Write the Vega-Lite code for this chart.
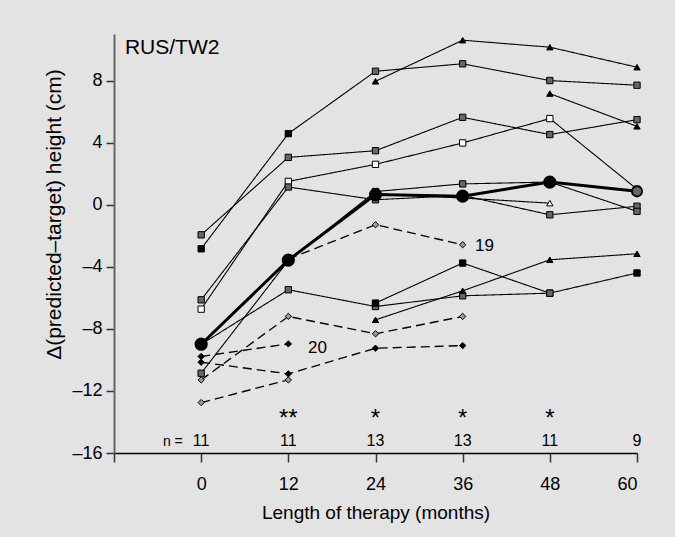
{
  "$schema": "https://vega.github.io/schema/vega-lite/v6.json",
  "width": 523,
  "height": 419,
  "autosize": {"type": "none"},
  "padding": {"left": 114, "top": 34, "right": 38, "bottom": 84},
  "background": "#e3e3e3",
  "config": {"view": {"stroke": null}, "font": "Liberation Sans", "axis": {"grid": false}},
  "datasets": {
    "obs": [
      {"id": "S1", "month": 0, "value": -2.84, "mk": "filled square", "line": "solid"},
      {"id": "S1", "month": 12, "value": 4.58, "mk": "filled square", "line": "solid"},
      {"id": "S1", "month": 24, "value": 8.6, "mk": "hatched square", "line": "solid"},
      {"id": "S1", "month": 36, "value": 9.08, "mk": "hatched square", "line": "solid"},
      {"id": "S1", "month": 48, "value": 8.0, "mk": "hatched square", "line": "solid"},
      {"id": "S1", "month": 60, "value": 7.7, "mk": "hatched square", "line": "solid"},
      {"id": "S2", "month": 0, "value": -1.94, "mk": "hatched square", "line": "solid"},
      {"id": "S2", "month": 12, "value": 3.05, "mk": "hatched square", "line": "solid"},
      {"id": "S2", "month": 24, "value": 3.48, "mk": "hatched square", "line": "solid"},
      {"id": "S2", "month": 36, "value": 5.63, "mk": "hatched square", "line": "solid"},
      {"id": "S2", "month": 48, "value": 4.52, "mk": "hatched square", "line": "solid"},
      {"id": "S2", "month": 60, "value": 5.48, "mk": "hatched square", "line": "solid"},
      {"id": "S3", "month": 0, "value": -6.73, "mk": "open square", "line": "solid"},
      {"id": "S3", "month": 12, "value": 1.5, "mk": "open square", "line": "solid"},
      {"id": "S3", "month": 24, "value": 2.6, "mk": "open square", "line": "solid"},
      {"id": "S3", "month": 36, "value": 3.98, "mk": "open square", "line": "solid"},
      {"id": "S3", "month": 48, "value": 5.55, "mk": "open square", "line": "solid"},
      {"id": "S3", "month": 60, "value": 1.0, "mk": "open square", "line": "solid"},
      {"id": "S4", "month": 0, "value": -6.13, "mk": "hatched square", "line": "solid"},
      {"id": "S4", "month": 12, "value": 1.14, "mk": "hatched square", "line": "solid"},
      {"id": "S4", "month": 24, "value": 0.32, "mk": "hatched square", "line": "solid"},
      {"id": "S4", "month": 36, "value": 0.6, "mk": "hatched square", "line": "solid"},
      {"id": "S4", "month": 48, "value": -0.65, "mk": "hatched square", "line": "solid"},
      {"id": "S4", "month": 60, "value": -0.1, "mk": "hatched square", "line": "solid"},
      {"id": "S5", "month": 0, "value": -10.86, "mk": "hatched square", "line": "solid"},
      {"id": "S5", "month": 12, "value": -3.6, "mk": "hatched square", "line": "solid"},
      {"id": "S5", "month": 24, "value": 0.85, "mk": "hatched square", "line": "solid"},
      {"id": "S5", "month": 36, "value": 1.34, "mk": "hatched square", "line": "solid"},
      {"id": "S5", "month": 48, "value": 1.46, "mk": "hatched square", "line": "solid"},
      {"id": "S5", "month": 60, "value": -0.43, "mk": "hatched square", "line": "solid"},
      {"id": "S6", "month": 0, "value": -9.0, "mk": "hatched square", "line": "solid"},
      {"id": "S6", "month": 12, "value": -5.48, "mk": "hatched square", "line": "solid"},
      {"id": "S6", "month": 24, "value": -6.56, "mk": "hatched square", "line": "solid"},
      {"id": "S6", "month": 36, "value": -5.87, "mk": "hatched square", "line": "solid"},
      {"id": "S6", "month": 48, "value": -5.7, "mk": "hatched square", "line": "solid"},
      {"id": "S7", "month": 24, "value": 7.95, "mk": "filled triangle", "line": "solid"},
      {"id": "S7", "month": 36, "value": 10.6, "mk": "filled triangle", "line": "solid"},
      {"id": "S7", "month": 48, "value": 10.15, "mk": "filled triangle", "line": "solid"},
      {"id": "S7", "month": 60, "value": 8.86, "mk": "filled triangle", "line": "solid"},
      {"id": "S8", "month": 24, "value": -7.42, "mk": "filled triangle", "line": "solid"},
      {"id": "S8", "month": 36, "value": -5.55, "mk": "filled triangle", "line": "solid"},
      {"id": "S8", "month": 48, "value": -3.55, "mk": "filled triangle", "line": "solid"},
      {"id": "S8", "month": 60, "value": -3.16, "mk": "filled triangle", "line": "solid"},
      {"id": "S9", "month": 24, "value": -6.34, "mk": "filled square", "line": "solid"},
      {"id": "S9", "month": 36, "value": -3.76, "mk": "filled square", "line": "solid"},
      {"id": "S9", "month": 48, "value": -5.7, "mk": "hatched square", "line": "solid"},
      {"id": "S9", "month": 60, "value": -4.4, "mk": "filled square", "line": "solid"},
      {"id": "S10", "month": 48, "value": 7.16, "mk": "filled triangle", "line": "solid"},
      {"id": "S10", "month": 60, "value": 5.05, "mk": "filled triangle", "line": "solid"},
      {"id": "S11", "month": 24, "value": 0.7, "mk": "open triangle", "line": "solid"},
      {"id": "S11", "month": 36, "value": 0.43, "mk": "open triangle", "line": "solid"},
      {"id": "S11", "month": 48, "value": 0.1, "mk": "open triangle", "line": "solid"},
      {"id": "D1", "month": 12, "value": -3.5, "mk": "hatched diamond", "line": "dashed"},
      {"id": "D1", "month": 24, "value": -1.29, "mk": "hatched diamond", "line": "dashed"},
      {"id": "D1", "month": 36, "value": -2.58, "mk": "hatched diamond", "line": "dashed"},
      {"id": "D2", "month": 0, "value": -9.78, "mk": "filled diamond", "line": "dashed"},
      {"id": "D2", "month": 12, "value": -8.97, "mk": "filled diamond", "line": "dashed"},
      {"id": "D3", "month": 0, "value": -10.15, "mk": "filled diamond", "line": "dashed"},
      {"id": "D3", "month": 12, "value": -10.9, "mk": "filled diamond", "line": "dashed"},
      {"id": "D3", "month": 24, "value": -9.25, "mk": "filled diamond", "line": "dashed"},
      {"id": "D3", "month": 36, "value": -9.08, "mk": "filled diamond", "line": "dashed"},
      {"id": "D4", "month": 0, "value": -11.29, "mk": "hatched diamond", "line": "dashed"},
      {"id": "D4", "month": 12, "value": -7.2, "mk": "hatched diamond", "line": "dashed"},
      {"id": "D4", "month": 24, "value": -8.32, "mk": "hatched diamond", "line": "dashed"},
      {"id": "D4", "month": 36, "value": -7.2, "mk": "hatched diamond", "line": "dashed"},
      {"id": "D5", "month": 0, "value": -12.75, "mk": "hatched diamond", "line": "dashed"},
      {"id": "D5", "month": 12, "value": -11.29, "mk": "hatched diamond", "line": "dashed"},
      {"id": "mean", "month": 0, "value": -8.99, "mk": "mean", "line": "solid"},
      {"id": "mean", "month": 12, "value": -3.57, "mk": "mean", "line": "solid"},
      {"id": "mean", "month": 24, "value": 0.65, "mk": "mean", "line": "solid"},
      {"id": "mean", "month": 36, "value": 0.55, "mk": "mean", "line": "solid"},
      {"id": "mean", "month": 48, "value": 1.46, "mk": "mean", "line": "solid"},
      {"id": "mean", "month": 60, "value": 0.86, "mk": "mean open", "line": "solid"}
    ],
    "notes": [
      {"text": "RUS/TW2", "month": -10.5, "value": 9.68, "kind": "panel"},
      {"text": "19", "month": 37.7, "value": -3.01, "kind": "label"},
      {"text": "20", "month": 14.7, "value": -9.57, "kind": "label"},
      {"text": "n =", "month": -3.9, "value": -15.53, "kind": "nlab"},
      {"text": "11", "month": 0, "value": -15.53, "kind": "n"},
      {"text": "11", "month": 12, "value": -15.53, "kind": "n"},
      {"text": "13", "month": 24, "value": -15.53, "kind": "n"},
      {"text": "13", "month": 36, "value": -15.53, "kind": "n"},
      {"text": "11", "month": 48, "value": -15.53, "kind": "n"},
      {"text": "9", "month": 60, "value": -15.53, "kind": "n"},
      {"text": "**", "month": 12, "value": -14.58, "kind": "star"},
      {"text": "*", "month": 24, "value": -14.58, "kind": "star"},
      {"text": "*", "month": 36, "value": -14.58, "kind": "star"},
      {"text": "*", "month": 48, "value": -14.58, "kind": "star"}
    ]
  },
  "encoding": {
    "x": {
      "field": "month", "type": "quantitative",
      "scale": {"domain": [-12, 60], "nice": false, "zero": false},
      "axis": {
        "values": [-12, 0, 12, 24, 36, 48, 60],
        "labelExpr": "datum.value < 0 ? '' : datum.label",
        "title": "Length of therapy (months)",
        "domainColor": "black", "domainWidth": 1.5,
        "tickColor": "#333", "tickWidth": 1.5, "tickSize": 9,
        "labelFontSize": 18, "labelPadding": 13, "labelColor": "black",
        "titleFontSize": 19, "titleFontWeight": "normal", "titleColor": "black", "titlePadding": 10
      }
    },
    "y": {
      "field": "value", "type": "quantitative",
      "scale": {"domain": [-16, 11], "nice": false, "zero": false},
      "axis": {
        "values": [-16, -12, -8, -4, 0, 4, 8],
        "labelExpr": "replace(datum.label, '−', '–')",
        "title": "Δ(predicted–target) height (cm)",
        "domainColor": "#666", "domainWidth": 2,
        "tickColor": "#333", "tickWidth": 1.5, "tickSize": 8,
        "labelFontSize": 18, "labelPadding": 4, "labelColor": "black",
        "titleFontSize": 21, "titleFontWeight": "normal", "titleColor": "black",
        "titleX": -60, "titleY": 180, "titleAlign": "center", "titleBaseline": "middle"
      }
    }
  },
  "layer": [
    {
      "data": {"name": "obs"},
      "transform": [{"filter": "datum.id !== 'mean'"}],
      "mark": {"type": "line", "color": "black"},
      "encoding": {
        "detail": {"field": "id", "type": "nominal"},
        "order": {"field": "month", "type": "quantitative"},
        "strokeDash": {"field": "line", "type": "nominal", "scale": {"domain": ["solid", "dashed"], "range": [[1, 0], [9, 5]]}, "legend": null},
        "strokeWidth": {"field": "line", "type": "nominal", "scale": {"domain": ["solid", "dashed"], "range": [1.1, 1.8]}, "legend": null}
      }
    },
    {
      "data": {"name": "obs"},
      "transform": [{"filter": "datum.id !== 'mean'"}],
      "mark": {"type": "point", "filled": true, "stroke": "black", "strokeWidth": 1, "opacity": 1, "size": 40},
      "encoding": {
        "shape": {"field": "mk", "type": "nominal", "legend": null,
          "scale": {"domain": ["filled square", "hatched square", "open square", "filled triangle", "open triangle", "filled diamond", "hatched diamond"],
                    "range": ["square", "square", "square", "triangle-up", "triangle-up", "diamond", "diamond"]}},
        "fill": {"field": "mk", "type": "nominal", "legend": null,
          "scale": {"domain": ["filled square", "hatched square", "open square", "filled triangle", "open triangle", "filled diamond", "hatched diamond"],
                    "range": ["black", "#666666", "white", "black", "white", "black", "#999999"]}}
      }
    },
    {
      "data": {"name": "obs"},
      "transform": [{"filter": "datum.id === 'mean'"}],
      "mark": {"type": "line", "color": "black", "strokeWidth": 3},
      "encoding": {"order": {"field": "month", "type": "quantitative"}}
    },
    {
      "data": {"name": "obs"},
      "transform": [{"filter": "datum.id === 'mean'"}],
      "mark": {"type": "point", "filled": true, "stroke": "black", "opacity": 1, "shape": "circle"},
      "encoding": {
        "fill": {"field": "mk", "type": "nominal", "legend": null, "scale": {"domain": ["mean", "mean open"], "range": ["black", "white"]}},
        "size": {"field": "mk", "type": "nominal", "legend": null, "scale": {"domain": ["mean", "mean open"], "range": [135, 105]}},
        "strokeWidth": {"field": "mk", "type": "nominal", "legend": null, "scale": {"domain": ["mean", "mean open"], "range": [3, 5]}}
      }
    },
    {
      "data": {"name": "notes"},
      "transform": [{"filter": "datum.kind === 'panel'"}],
      "mark": {"type": "text", "align": "left", "baseline": "alphabetic", "fontSize": 21, "color": "black"},
      "encoding": {"text": {"field": "text"}}
    },
    {
      "data": {"name": "notes"},
      "transform": [{"filter": "datum.kind === 'label'"}],
      "mark": {"type": "text", "align": "left", "baseline": "alphabetic", "fontSize": 17, "color": "black"},
      "encoding": {"text": {"field": "text"}}
    },
    {
      "data": {"name": "notes"},
      "transform": [{"filter": "datum.kind === 'n'"}],
      "mark": {"type": "text", "align": "center", "baseline": "alphabetic", "fontSize": 16, "color": "black"},
      "encoding": {"text": {"field": "text"}}
    },
    {
      "data": {"name": "notes"},
      "transform": [{"filter": "datum.kind === 'nlab'"}],
      "mark": {"type": "text", "align": "center", "baseline": "alphabetic", "fontSize": 14, "color": "black"},
      "encoding": {"text": {"field": "text"}}
    },
    {
      "data": {"name": "notes"},
      "transform": [{"filter": "datum.kind === 'star'"}],
      "mark": {"type": "text", "align": "center", "baseline": "bottom", "fontSize": 24, "color": "black"},
      "encoding": {"text": {"field": "text"}}
    }
  ]
}
